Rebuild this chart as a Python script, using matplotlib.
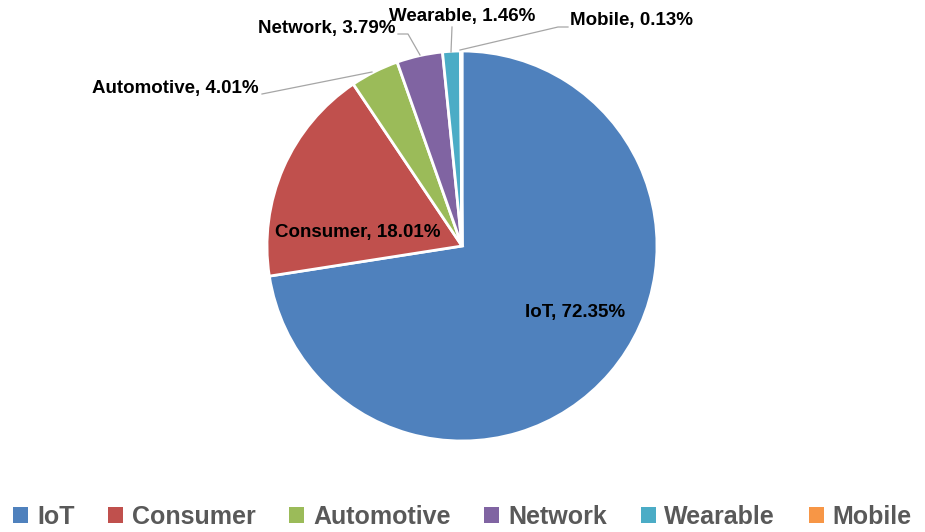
import matplotlib
matplotlib.use("Agg")
import matplotlib.pyplot as plt
from matplotlib.patches import Patch

# data
labels = ["IoT", "Consumer", "Automotive", "Network", "Wearable", "Mobile"]
shares = [72.35, 18.01, 4.01, 3.79, 1.46, 0.13]
colors = ["#4F81BD", "#C0504D", "#9BBB59", "#8064A2", "#4BACC6", "#F79646"]

plt.rcParams['font.family'] = ['Liberation Sans', 'DejaVu Sans']

W, H = 925, 532
fig = plt.figure(figsize=(W / 100, H / 100), dpi=100)
ax = fig.add_axes([0, 0, 1, 1])

cx, cy, r = 462, H - 246, 195
ax.pie(shares, colors=colors, startangle=90, counterclock=False,
       center=(cx, cy), radius=r, frame=True,
       wedgeprops=dict(edgecolor='white', linewidth=2))
ax.set_xlim(0, W)
ax.set_ylim(0, H)
ax.axis('off')

txt = dict(fontsize=13.5, fontweight='bold', color='black')
line = dict(color='#A6A6A6', linewidth=0.9)

def lbl(i):
    return f"{labels[i]}, {shares[i]:.2f}%"

# inside labels
ax.text(575, H - 313, lbl(0), ha='center', va='center', **txt)
ax.text(358, H - 233, lbl(1), ha='center', va='center', **txt)

# outside labels with leader lines (pixel coords, y from top)
def outside(i, tx, ty, ha, pts):
    ax.text(tx, H - ty, lbl(i), ha=ha, va='center', **txt)
    xs = [p[0] for p in pts]
    ys = [H - p[1] for p in pts]
    ax.plot(xs, ys, **line)

outside(2, 259, 88, 'right', [(262, 94), (372, 72)])
outside(3, 395, 29, 'right', [(398, 34), (408, 34), (420, 55)])
outside(4, 462, 16, 'center', [(452, 27), (451, 52)])
outside(5, 570, 21, 'left', [(568, 27), (558, 27), (460, 50)])

handles = [Patch(facecolor=c, edgecolor='none') for c in colors]
leg = fig.legend(handles, labels, loc='center', bbox_to_anchor=(0.5, 1 - 517 / H),
                 ncol=6, frameon=False, fontsize=18, handlelength=0.6,
                 handleheight=0.6, handletextpad=0.35, columnspacing=1.35,
                 borderpad=0, borderaxespad=0)
for t in leg.get_texts():
    t.set_color('#595959')
    t.set_fontweight('bold')

fig.savefig("out.png", dpi=100, facecolor='white')
